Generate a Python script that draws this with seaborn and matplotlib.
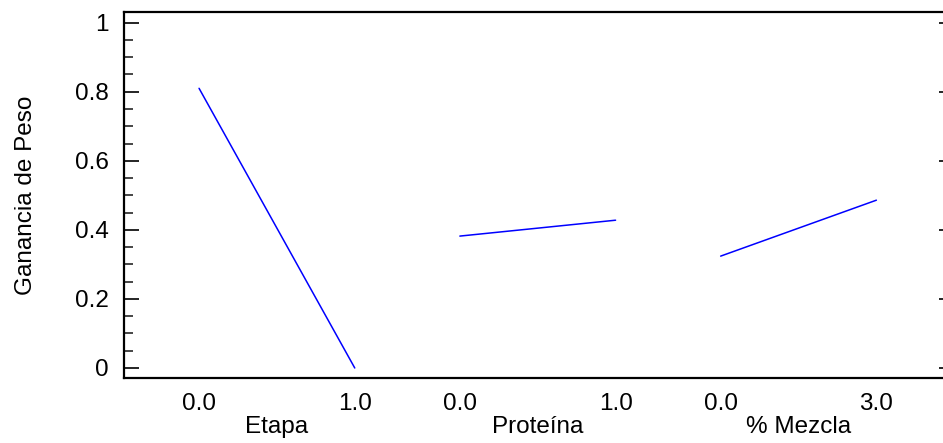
import numpy as np
import pandas as pd
import matplotlib
matplotlib.use("Agg")
import matplotlib.pyplot as plt
import matplotlib.transforms as mtransforms
from matplotlib.ticker import MultipleLocator
import seaborn as sns

# ---- data ----
factors = ["Etapa", "Proteína", "% Mezcla"]
low_labels = ["0.0", "0.0", "0.0"]
high_labels = ["1.0", "1.0", "3.0"]
low_values = [0.810, 0.382, 0.324]
high_values = [0.000, 0.428, 0.486]
y_ticks = [0, 0.2, 0.4, 0.6, 0.8, 1]
y_tick_labels = ["0", "0.2", "0.4", "0.6", "0.8", "1"]

# ---- layout ----
group_step = 1.675
rows = []
tick_pos, tick_lab, centers = [], [], []
for i, f in enumerate(factors):
    x0 = i * group_step
    x1 = x0 + 1.0
    rows.append({"x": x0, "y": low_values[i], "factor": f})
    rows.append({"x": x1, "y": high_values[i], "factor": f})
    tick_pos += [x0, x1]
    tick_lab += [low_labels[i], high_labels[i]]
    centers.append((x0 + x1) / 2)
df = pd.DataFrame(rows)

sns.set_theme(style="white")
plt.rcParams["font.family"] = ["Liberation Sans", "DejaVu Sans"]
plt.rcParams["text.color"] = "black"
plt.rcParams["axes.labelcolor"] = "black"

FS = 17.5

fig = plt.figure(figsize=(9.43, 4.43), dpi=100)
ax = fig.add_axes([124 / 943, 1 - 378 / 443, 1 - 124 / 943 + 0.002, (378 - 12) / 443])

sns.lineplot(data=df, x="x", y="y", hue="factor", units="factor", estimator=None,
             palette=["#0000ff"] * 3, legend=False, linewidth=1.1, ax=ax)

ax.set_xlim(-0.482, 4.79)
ax.set_ylim(-0.029, 1.031)

for s in ["left", "top", "bottom"]:
    ax.spines[s].set_color("black")
    ax.spines[s].set_linewidth(1.6)
ax.spines["right"].set_visible(False)

ax.set_yticks(y_ticks)
ax.set_yticklabels(y_tick_labels)
ax.yaxis.set_minor_locator(MultipleLocator(0.05))
ax.tick_params(axis="y", which="major", direction="in", length=11, width=1.2,
               left=True, right=False, labelsize=FS, pad=11, colors="black")
ax.tick_params(axis="y", which="minor", direction="in", length=6.5, width=1.2,
               left=True, right=False)

ax.set_xticks(tick_pos)
ax.set_xticklabels(tick_lab)
ax.tick_params(axis="x", which="both", length=0, labelsize=FS, pad=11, colors="black")
ax.set_xlabel("")
ax.set_ylabel("Ganancia de Peso", fontsize=FS, labelpad=27, color="black")

trans = mtransforms.blended_transform_factory(ax.transData, fig.transFigure)
for c, f in zip(centers, factors):
    ax.text(c, 1 - 427 / 443, f, transform=trans, ha="center", va="center",
            fontsize=FS, color="black")

ax2 = ax.twinx()
ax2.set_ylim(ax.get_ylim())
ax2.set_yticks(y_ticks)
ax2.set_yticklabels([])
ax2.tick_params(axis="y", direction="in", length=4.5, width=1.2, right=True, left=False,
                colors="black")
for s in ax2.spines.values():
    s.set_visible(False)
ax2.grid(False)

fig.savefig("out.png", dpi=100)
